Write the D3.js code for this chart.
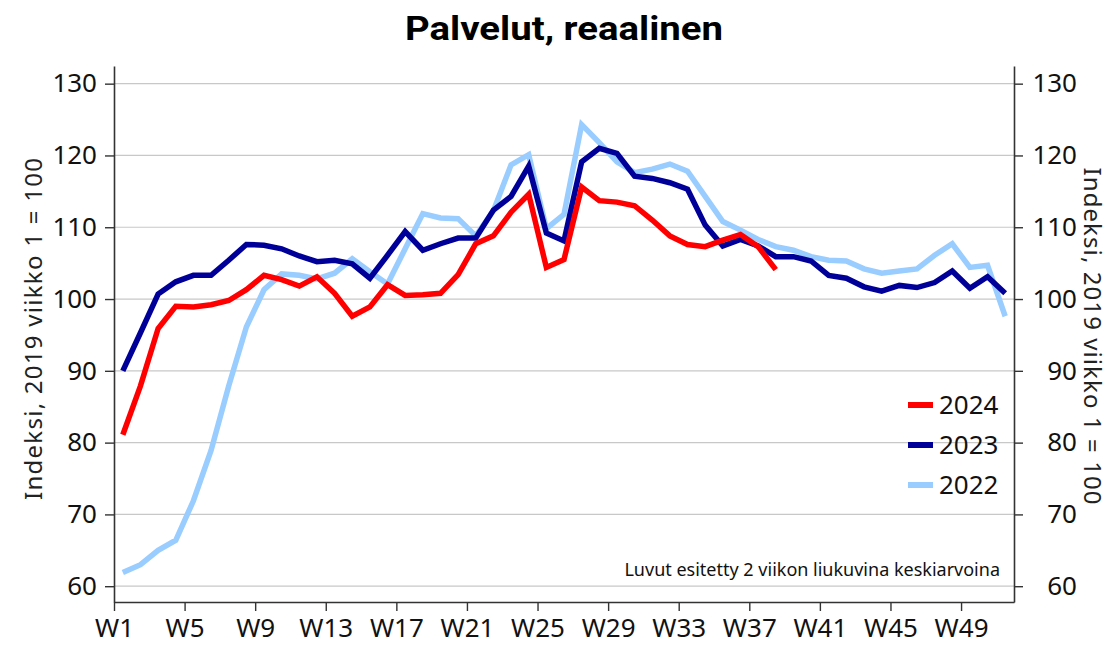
<!DOCTYPE html>
<html>
<head>
<meta charset="utf-8">
<script src="https://cdn.jsdelivr.net/npm/d3@7"></script>
<style>
  body { margin: 0; background: #fff; }
  svg { display: block; font-family: "Noto Sans", "Open Sans", sans-serif; }
</style>
</head>
<body>
<div id="chart"></div>
<script>
// index values, 2-week moving average, one value per week
const values2024 = [81.1, 87.9, 95.9, 99.0, 98.9, 99.2, 99.8, 101.3, 103.3, 102.7,
  101.8, 103.1, 100.8, 97.6, 98.9, 102.0, 100.5, 100.6, 100.8, 103.4,
  107.7, 108.8, 112.1, 114.6, 104.4, 105.5, 115.6, 113.7, 113.5, 113.0,
  111.0, 108.8, 107.6, 107.3, 108.2, 109.0, 107.3, 104.1]
const values2023 = [90.0, 95.3, 100.7, 102.4, 103.3, 103.3, 105.4, 107.6, 107.5, 107.0,
  106.0, 105.2, 105.4, 104.9, 102.9, 106.1, 109.4, 106.8, 107.7, 108.5,
  108.5, 112.4, 114.3, 118.5, 109.2, 108.1, 119.1, 121.0, 120.3, 117.1,
  116.8, 116.2, 115.3, 110.3, 107.4, 108.3, 107.4, 105.9, 105.9, 105.3,
  103.3, 102.9, 101.7, 101.1, 101.9, 101.6, 102.3, 103.9, 101.5, 103.1, 100.8]
const values2022 = [61.9, 63.0, 65.0, 66.4, 71.9, 78.9, 87.9, 96.1, 101.3, 103.5,
  103.3, 102.8, 103.6, 105.6, 103.8, 102.1, 107.0, 111.9, 111.3, 111.2,
  108.8, 112.3, 118.7, 120.1, 109.8, 111.8, 124.3, 121.8, 119.1, 117.6,
  118.1, 118.8, 117.8, 114.3, 110.8, 109.6, 108.3, 107.3, 106.8, 105.9,
  105.4, 105.3, 104.2, 103.6, 103.9, 104.2, 106.1, 107.7, 104.4, 104.7, 97.6]

const weekCount = 51
const weekTicks = ["W1", "W5", "W9", "W13", "W17", "W21", "W25", "W29", "W33", "W37", "W41", "W45", "W49"]
const yTicks = [60, 70, 80, 90, 100, 110, 120, 130]

const series = [
  { name: "2022", values: values2022, color: "#99ccff" },
  { name: "2023", values: values2023, color: "#000099" },
  { name: "2024", values: values2024, color: "#ff0000" },
]

const width = 1113
const height = 645
const margin = { top: 66, right: 99, bottom: 43, left: 114 }

const svg = d3.select("#chart")
  .append("svg")
  .attr("width", width)
  .attr("height", height)

const x = d3.scaleLinear()
  .domain([0, weekCount])
  .range([margin.left, width - margin.right])

const y = d3.scaleLinear()
  .domain([57.8, 132.46])
  .range([height - margin.bottom, margin.top])

// gridlines
svg.append("g")
  .selectAll("line")
  .data(yTicks)
  .join("line")
  .attr("x1", x(0))
  .attr("x2", x(weekCount))
  .attr("y1", d => y(d))
  .attr("y2", d => y(d))
  .attr("stroke", "#c8c8c8")
  .attr("stroke-width", 1.2)

const styleAxis = g => {
  g.select(".domain").attr("stroke", "#333").attr("stroke-width", 1.6)
  g.selectAll(".tick line").attr("stroke", "#333").attr("stroke-width", 1.4)
  g.selectAll(".tick text")
    .attr("fill", "#111")
    .style("font-size", "26px")
    .style("font-family", "'Noto Sans', 'Open Sans', sans-serif")
}

svg.append("g")
  .attr("transform", `translate(${x(0)},0)`)
  .call(d3.axisLeft(y).tickValues(yTicks).tickSize(9).tickSizeOuter(0).tickPadding(8))
  .call(styleAxis)

svg.append("g")
  .attr("transform", `translate(${x(weekCount)},0)`)
  .call(d3.axisRight(y).tickValues(yTicks).tickSize(9).tickSizeOuter(0))
  .call(styleAxis)
  .call(g => g.selectAll(".tick text").attr("x", 63).attr("text-anchor", "end"))

svg.append("g")
  .attr("transform", `translate(0,${y.range()[0]})`)
  .call(d3.axisBottom(x)
    .tickValues(weekTicks.map((d, i) => i * 4))
    .tickFormat((d, i) => weekTicks[i])
    .tickSize(9).tickSizeOuter(0).tickPadding(8))
  .call(styleAxis)

// lines
const line = d3.line()
  .x((d, i) => x(i + 0.5))
  .y(d => y(d))

svg.append("g")
  .selectAll("path")
  .data(series)
  .join("path")
  .attr("d", d => line(d.values))
  .attr("fill", "none")
  .attr("stroke", d => d.color)
  .attr("stroke-width", 5.5)
  .attr("stroke-linejoin", "miter")

// legend
const legend = svg.append("g")
  .selectAll("g")
  .data(series.slice().reverse())
  .join("g")
  .attr("transform", (d, i) => `translate(908,${405 + i * 40})`)

legend.append("line")
  .attr("x1", 0)
  .attr("x2", 25)
  .attr("stroke", d => d.color)
  .attr("stroke-width", 6)

legend.append("text")
  .attr("x", 31)
  .attr("dy", "0.36em")
  .style("font-size", "26px")
  .attr("fill", "#111")
  .text(d => d.name)

// title, axis titles, note
svg.append("text")
  .attr("x", 564)
  .attr("y", 40)
  .attr("text-anchor", "middle")
  .style("font-family", "Roboto, sans-serif")
  .style("font-weight", 700)
  .style("font-size", "34px")
  .attr("textLength", 318)
  .attr("lengthAdjust", "spacingAndGlyphs")
  .text("Palvelut, reaalinen")

const axisTitle = "Indeksi, 2019 viikko 1 = 100"

svg.append("text")
  .attr("transform", "translate(42,329) rotate(-90)")
  .attr("text-anchor", "middle")
  .style("font-size", "24px")
  .attr("fill", "#222")
  .attr("textLength", 342)
  .text(axisTitle)

svg.append("text")
  .attr("transform", "translate(1084,336) rotate(90)")
  .attr("text-anchor", "middle")
  .style("font-size", "24px")
  .attr("fill", "#222")
  .attr("textLength", 337)
  .text(axisTitle)

svg.append("text")
  .attr("x", 1000)
  .attr("y", 576)
  .attr("text-anchor", "end")
  .style("font-size", "18px")
  .attr("fill", "#111")
  .text("Luvut esitetty 2 viikon liukuvina keskiarvoina")
</script>
</body>
</html>
